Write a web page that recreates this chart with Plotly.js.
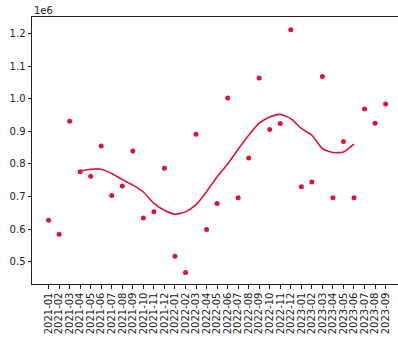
<!DOCTYPE html>
<html><head><meta charset="utf-8">
<script src="https://cdn.plot.ly/plotly-3.0.1.min.js"></script>
<style>html,body{margin:0;padding:0;background:#fff;}#chart{width:398px;height:339px;}</style>
</head><body><div id="chart"></div>
<script>
const months = ["2021-01","2021-02","2021-03","2021-04","2021-05","2021-06","2021-07","2021-08","2021-09","2021-10","2021-11","2021-12",
"2022-01","2022-02","2022-03","2022-04","2022-05","2022-06","2022-07","2022-08","2022-09","2022-10","2022-11","2022-12",
"2023-01","2023-02","2023-03","2023-04","2023-05","2023-06","2023-07","2023-08","2023-09"];
const values = [627000,584000,931000,776000,762000,855000,703000,732000,840000,634000,653000,787000,
517000,467000,891000,599000,679000,1002000,696000,818000,1064000,906000,924000,1212000,
730000,745000,1068000,696000,869000,696000,969000,925000,984000];
const trendMonths = months.slice(3, 30);
const trendValues = [779000,784000,784000,771000,752000,735000,714000,679000,658000,646000,653000,675000,
715000,760000,800000,845000,888000,925000,944000,952000,939000,909000,888000,847000,835000,837000,861000];
const yTickVals = [500000,600000,700000,800000,900000,1000000,1100000,1200000];
const yTickText = ["0.5","0.6","0.7","0.8","0.9","1.0","1.1","1.2"];
const color = "#dc143c";
const font = {family:"DejaVu Sans", size:10, color:"#222"};
Plotly.newPlot("chart", [
  {x: months, y: values, type:"scatter", mode:"markers", marker:{color:color, size:5}},
  {x: trendMonths, y: trendValues, type:"scatter", mode:"lines", line:{color:color, width:1.6, shape:"spline", smoothing:0.6}}
], {
  width:398, height:339, showlegend:false,
  margin:{l:32, r:0, t:17, b:55},
  paper_bgcolor:"#fff", plot_bgcolor:"#fff", font:font,
  xaxis:{type:"category", categoryorder:"array", categoryarray:months, range:[-1.575, 33.18],
    tickmode:"array", tickvals:months, ticktext:months,
    tickangle:-90, showgrid:false, zeroline:false, showline:true, mirror:true, linecolor:"#222", linewidth:1,
    ticks:"outside", ticklen:3.5, tickcolor:"#222", tickfont:font},
  yaxis:{range:[431700, 1250900], tickvals:yTickVals, ticktext:yTickText, showgrid:false, zeroline:false,
    showline:true, mirror:false, linecolor:"#222", linewidth:1, ticks:"outside", ticklen:3.5, tickcolor:"#222", tickfont:font},
  annotations:[{text:"1e6", xref:"paper", yref:"paper", x:0, y:1, xanchor:"left", yanchor:"bottom", showarrow:false, font:font, yshift:-1}]
}, {staticPlot:true});
</script></body></html>
